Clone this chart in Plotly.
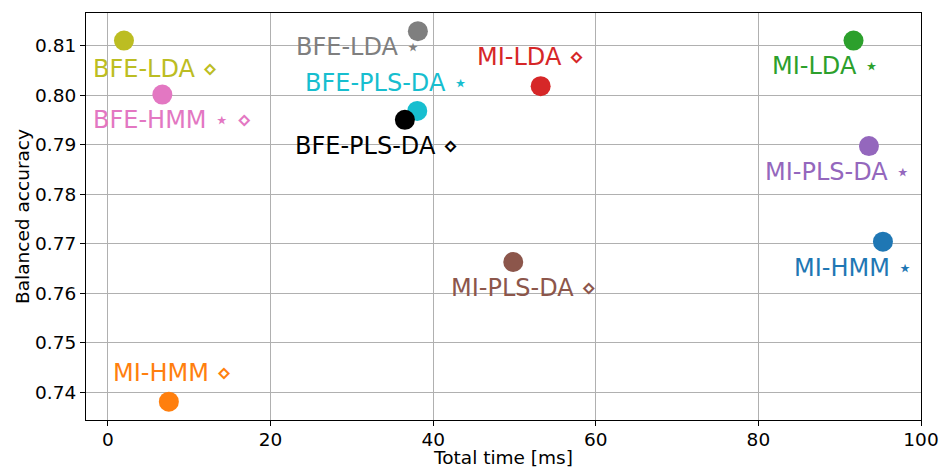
import plotly.graph_objects as go

# ---- data ----
methods = ["BFE-LDA", "BFE-HMM", "BFE-LDA", "BFE-PLS-DA", "BFE-PLS-DA",
           "MI-LDA", "MI-LDA", "MI-PLS-DA", "MI-HMM", "MI-PLS-DA", "MI-HMM"]
label_marks = ["⋄", "⋆ ⋄", "⋆", "⋆", "⋄", "⋄", "⋆", "⋆", "⋆", "⋄", "⋄"]
total_time_ms = [1.97, 6.69, 38.12, 38.04, 36.52, 53.22, 91.7, 93.6, 95.32, 49.85, 7.49]
balanced_accuracy = [0.8110, 0.8001, 0.8129, 0.7968, 0.7950, 0.8018,
                     0.8110, 0.7897, 0.7704, 0.7663, 0.7381]
x_ticks = [0, 20, 40, 60, 80, 100]
y_ticks = [0.74, 0.75, 0.76, 0.77, 0.78, 0.79, 0.80, 0.81]

# ---- style ----
colors = ["#bcbd22", "#e377c2", "#7f7f7f", "#17becf", "#000000", "#d62728",
          "#2ca02c", "#9467bd", "#1f77b4", "#8c564b", "#ff7f0e"]
# label offsets in pixels: (right edge relative to point, vertical centre below point)
label_offsets = [(94.7, 28.5), (90.3, 25.6), (4.0, 15.6), (51.4, -28.0), (54.0, 25.7),
                 (44.3, -29.0), (26.7, 25.7), (42.0, 25.6), (30.6, 26.0), (83.7, 25.7),
                 (64.2, -28.4)]
FONT = "DejaVu Sans"

fig = go.Figure()
for i in range(len(methods)):
    fig.add_trace(go.Scatter(
        x=[total_time_ms[i]], y=[balanced_accuracy[i]], mode="markers",
        marker=dict(size=20, color=colors[i], line=dict(width=0)),
        showlegend=False, hoverinfo="skip"))

annotations = []
for i in range(len(methods)):
    dx, dy = label_offsets[i]
    annotations.append(dict(
        x=total_time_ms[i], y=balanced_accuracy[i], xref="x", yref="y",
        text=f"{methods[i]} {label_marks[i]}", showarrow=False,
        xanchor="right", yanchor="middle", xshift=dx + 1, yshift=-dy,
        font=dict(family=FONT, size=24, color=colors[i])))

axis_common = dict(
    showgrid=True, gridcolor="#b0b0b0", gridwidth=1,
    showline=True, linecolor="black", linewidth=1, mirror=True,
    ticks="outside", ticklen=5, tickcolor="black", tickwidth=1,
    zeroline=False, automargin=False,
    tickfont=dict(family=FONT, size=18.5, color="black"),
)

fig.update_layout(
    width=939, height=468,
    margin=dict(l=86, r=18, t=13, b=48),
    paper_bgcolor="white", plot_bgcolor="white",
    font=dict(family=FONT, color="black"),
    annotations=annotations,
    xaxis=dict(range=[-2.7, 100], tickvals=x_ticks, ticktext=[str(v) for v in x_ticks],
               ticklabelstandoff=-2,
               title=dict(text="Total time [ms]", font=dict(family=FONT, size=18.5), standoff=3),
               **axis_common),
    yaxis=dict(range=[0.7344, 0.81657], tickvals=y_ticks,
               ticktext=[f"{v:.2f}" for v in y_ticks],
               title=dict(text="Balanced accuracy", font=dict(family=FONT, size=18.5), standoff=0),
               **axis_common),
)

fig.write_html("out.html")
